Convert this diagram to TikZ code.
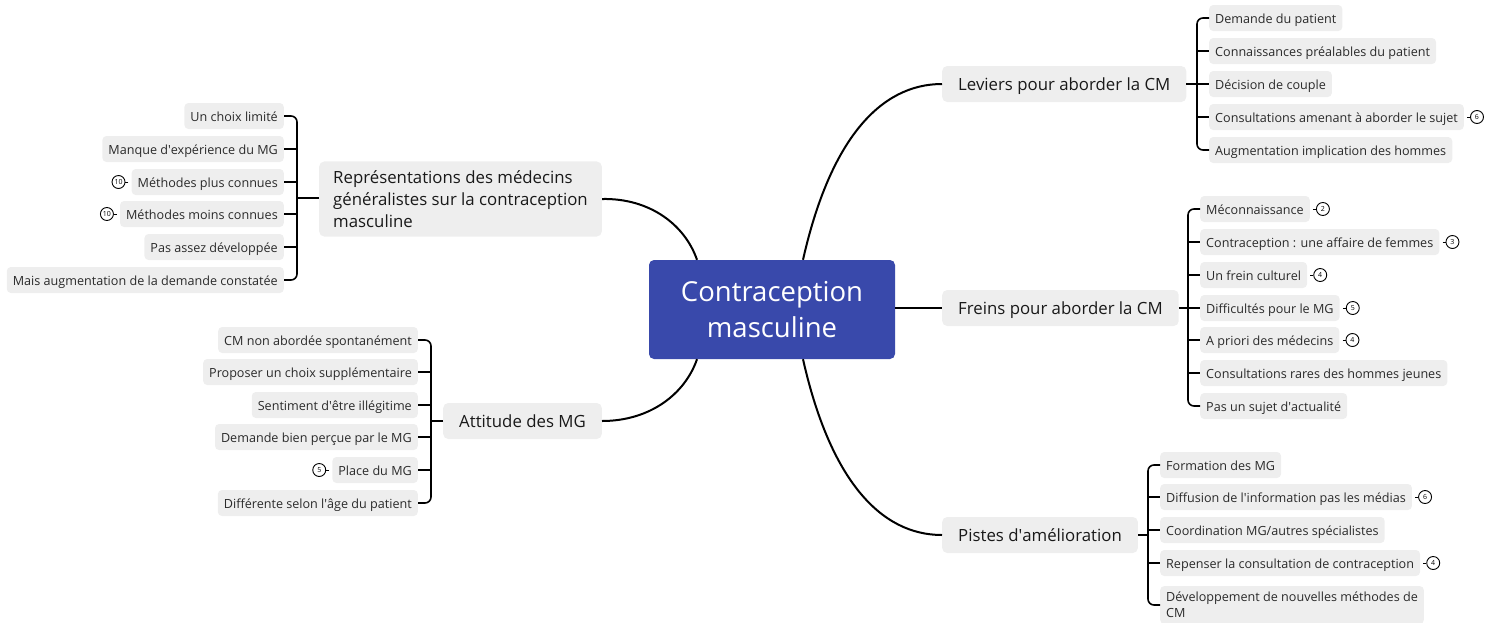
\documentclass[tikz,border=0pt]{standalone}
\usepackage{fontspec}
\setmainfont{Open Sans}
\usetikzlibrary{positioning, calc}
\definecolor{rootblue}{HTML}{3949AB}
\definecolor{boxgray}{HTML}{EEEEEE}
\definecolor{textdark}{HTML}{2A2A2A}
\newcommand{\apos}{\textquotesingle}
\tikzset{
    root-node/.style={
        fill=rootblue, rounded corners=5pt, text=white, align=center,
        minimum width=246pt, minimum height=99pt,
        font=\fontsize{27.5}{36}\selectfont
    },
    topic-node/.style={
        fill=boxgray, rounded corners=5pt, text=black!90, inner xsep=16pt,
        minimum height=36pt, text height=13pt, text depth=1pt,
        font=\fontsize{16.8}{22}\selectfont
    },
    leaf-node/.style={
        fill=boxgray, rounded corners=4pt, text=textdark, inner xsep=6pt,
        minimum height=26pt, text height=11pt, text depth=1pt,
        font=\fontsize{12.6}{16}\selectfont
    },
    count-badge/.style={
        circle, draw, line width=0.9pt, inner sep=0pt, minimum size=13pt,
        font=\fontsize{7}{7}\selectfont
    },
    root-link/.style={line width=2pt},
    leaf-link/.style={line width=1.6pt, rounded corners=6pt},
    badge-link/.style={line width=0.9pt, shorten <=3pt},
}

\begin{document}
\begin{tikzpicture}[x=1pt, y=-1pt]
        \useasboundingbox (0,0) rectangle (1489,622);

        % ROOT
        \node[root-node] (ROOT) at (772,309.5) {Contraception\\masculine};

        % TOPICS
        \node[topic-node, anchor=west] (LEV) at (942,84)  {Leviers pour aborder la CM};
        \node[topic-node, anchor=west] (FRE) at (942,308) {Freins pour aborder la CM};
        \node[topic-node, anchor=west] (PIS) at (942,535) {Pistes d\apos amélioration};
        \node[topic-node, anchor=east, align=left, text height=, text depth=, inner ysep=9pt,
              inner xsep=14pt] (REP) at (602,199)
            {Représentations des médecins\\généralistes sur la contraception\\masculine};
        \node[topic-node, anchor=east] (ATT) at (602,421) {Attitude des MG};

        % ROOT TO TOPICS
        \draw[root-link] ([xshift=31pt]ROOT.north) .. controls (830,140) and (880,84) .. (LEV.west);
        \draw[root-link] (ROOT.east |- FRE.west) -- (FRE.west);
        \draw[root-link] ([xshift=31pt]ROOT.south) .. controls (830,479) and (880,535) .. (PIS.west);
        \draw[root-link] ([xshift=-75pt]ROOT.north) .. controls (685,225) and (650,198) .. (REP.east);
        \draw[root-link] ([xshift=-75pt]ROOT.south) .. controls (685,394) and (650,421) .. (ATT.east);

        % LEVIERS
        \node[leaf-node, anchor=west] (LEV1) at (1209,18)  {Demande du patient};
        \node[leaf-node, anchor=west] (LEV2) at (1209,51)  {Connaissances préalables du patient};
        \node[leaf-node, anchor=west] (LEV3) at (1209,84)  {Décision de couple};
        \node[leaf-node, anchor=west] (LEV4) at (1209,117) {Consultations amenant à aborder le sujet};
        \node[leaf-node, anchor=west] (LEV5) at (1209,150) {Augmentation implication des hommes};
        \node[count-badge, right=6pt of LEV4] (LEV4B) {6};
        \coordinate (LEVJ) at (1197,84);
        \draw[leaf-link] (LEV1.west) -| (LEVJ) |- (LEV5.west);
        \draw[leaf-link] (LEV.east) -- (LEV3.west);
        \draw[leaf-link] (LEVJ |- LEV2.west) -- (LEV2.west);
        \draw[leaf-link] (LEVJ |- LEV4.west) -- (LEV4.west);
        \draw[badge-link] (LEV4.east) -- (LEV4B);

        % FREINS
        \node[leaf-node, anchor=west] (FRE1) at (1200,209) {Méconnaissance\hspace{4pt}};
        \node[leaf-node, anchor=west] (FRE2) at (1200,242) {Contraception : une affaire de femmes};
        \node[leaf-node, anchor=west] (FRE3) at (1200,275) {Un frein culturel};
        \node[leaf-node, anchor=west] (FRE4) at (1200,308) {Difficultés pour le MG};
        \node[leaf-node, anchor=west] (FRE5) at (1200,340) {A priori des médecins};
        \node[leaf-node, anchor=west] (FRE6) at (1200,373) {Consultations rares des hommes jeunes};
        \node[leaf-node, anchor=west] (FRE7) at (1200,406) {Pas un sujet d\apos actualité};
        \node[count-badge, right=6pt of FRE1] (FRE1B) {2};
        \node[count-badge, right=6pt of FRE2] (FRE2B) {3};
        \node[count-badge, right=6pt of FRE3] (FRE3B) {4};
        \node[count-badge, right=6pt of FRE4] (FRE4B) {5};
        \node[count-badge, right=6pt of FRE5] (FRE5B) {4};
        \coordinate (FREJ) at (1188,308);
        \draw[leaf-link] (FRE1.west) -| (FREJ) |- (FRE7.west);
        \draw[leaf-link] (FRE.east) -- (FRE4.west);
        \draw[leaf-link] (FREJ |- FRE2.west) -- (FRE2.west);
        \draw[leaf-link] (FREJ |- FRE3.west) -- (FRE3.west);
        \draw[leaf-link] (FREJ |- FRE5.west) -- (FRE5.west);
        \draw[leaf-link] (FREJ |- FRE6.west) -- (FRE6.west);
        \draw[badge-link] (FRE1.east) -- (FRE1B);
        \draw[badge-link] (FRE2.east) -- (FRE2B);
        \draw[badge-link] (FRE3.east) -- (FRE3B);
        \draw[badge-link] (FRE4.east) -- (FRE4B);
        \draw[badge-link] (FRE5.east) -- (FRE5B);

        % PISTES
        \node[leaf-node, anchor=west] (PIS1) at (1160,465) {Formation des MG};
        \node[leaf-node, anchor=west] (PIS2) at (1160,497) {Diffusion de l\apos information pas les médias};
        \node[leaf-node, anchor=west] (PIS3) at (1160,530) {Coordination MG/autres spécialistes};
        \node[leaf-node, anchor=west] (PIS4) at (1160,563) {Repenser la consultation de contraception};
        \node[leaf-node, anchor=west, align=left, text height=, text depth=, inner ysep=6pt] (PIS5) at (1160,605)
            {Développement de nouvelles méthodes de\\CM};
        \node[count-badge, right=6pt of PIS2] (PIS2B) {6};
        \node[count-badge, right=6pt of PIS4] (PIS4B) {4};
        \coordinate (PISJ) at (1148,535);
        \draw[leaf-link] (PIS1.west) -| (PISJ) |- (PIS5.west);
        \draw[leaf-link] (PIS.east) -- (PISJ);
        \draw[leaf-link] (PISJ |- PIS2.west) -- (PIS2.west);
        \draw[leaf-link] (PISJ |- PIS3.west) -- (PIS3.west);
        \draw[leaf-link] (PISJ |- PIS4.west) -- (PIS4.west);
        \draw[badge-link] (PIS2.east) -- (PIS2B);
        \draw[badge-link] (PIS4.east) -- (PIS4B);

        % REPRESENTATIONS
        \node[leaf-node, anchor=east] (REP1) at (284,116) {Un choix limité};
        \node[leaf-node, anchor=east] (REP2) at (284,149) {Manque d\apos expérience du MG};
        \node[leaf-node, anchor=east] (REP3) at (284,182) {Méthodes plus connues};
        \node[leaf-node, anchor=east] (REP4) at (284,214) {Méthodes moins connues};
        \node[leaf-node, anchor=east] (REP5) at (284,247) {Pas assez développée};
        \node[leaf-node, anchor=east] (REP6) at (284,280) {Mais augmentation de la demande constatée};
        \node[count-badge, left=6pt of REP3] (REP3B) {10};
        \node[count-badge, left=6pt of REP4] (REP4B) {10};
        \coordinate (REPJ) at (297,198);
        \draw[leaf-link] (REP1.east) -| (REPJ) |- (REP6.east);
        \draw[leaf-link] (REP.west |- REPJ) -- (REPJ);
        \draw[leaf-link] (REPJ |- REP2.east) -- (REP2.east);
        \draw[leaf-link] (REPJ |- REP3.east) -- (REP3.east);
        \draw[leaf-link] (REPJ |- REP4.east) -- (REP4.east);
        \draw[leaf-link] (REPJ |- REP5.east) -- (REP5.east);
        \draw[badge-link] (REP3.west) -- (REP3B);
        \draw[badge-link] (REP4.west) -- (REP4B);

        % ATTITUDE
        \node[leaf-node, anchor=east] (ATT1) at (418,340) {CM non abordée spontanément};
        \node[leaf-node, anchor=east] (ATT2) at (418,372) {Proposer un choix supplémentaire};
        \node[leaf-node, anchor=east] (ATT3) at (418,405) {Sentiment d\apos être illégitime};
        \node[leaf-node, anchor=east] (ATT4) at (418,437) {Demande bien perçue par le MG};
        \node[leaf-node, anchor=east] (ATT5) at (418,470) {Place du MG};
        \node[leaf-node, anchor=east] (ATT6) at (418,503) {Différente selon l\apos âge du patient};
        \node[count-badge, left=6pt of ATT5] (ATT5B) {5};
        \coordinate (ATTJ) at (431,421);
        \draw[leaf-link] (ATT1.east) -| (ATTJ) |- (ATT6.east);
        \draw[leaf-link] (ATT.west) -- (ATTJ);
        \draw[leaf-link] (ATTJ |- ATT2.east) -- (ATT2.east);
        \draw[leaf-link] (ATTJ |- ATT3.east) -- (ATT3.east);
        \draw[leaf-link] (ATTJ |- ATT4.east) -- (ATT4.east);
        \draw[leaf-link] (ATTJ |- ATT5.east) -- (ATT5.east);
        \draw[badge-link] (ATT5.west) -- (ATT5B);

    \end{tikzpicture}
\end{document}
